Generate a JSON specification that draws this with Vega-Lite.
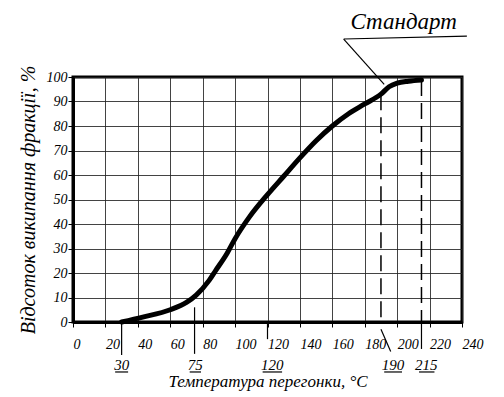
{
  "$schema": "https://vega.github.io/schema/vega-lite/v6.json",
  "autosize": "none",
  "width": 389,
  "height": 245,
  "padding": {"left": 73, "top": 77, "right": 42, "bottom": 75},
  "background": "white",
  "datasets": {
    "curve": [
      {"t": 30, "p": 0}, {"t": 43, "p": 2}, {"t": 60, "p": 5}, {"t": 70, "p": 8},
      {"t": 76, "p": 11}, {"t": 84, "p": 17}, {"t": 88, "p": 21}, {"t": 95, "p": 28},
      {"t": 100, "p": 34}, {"t": 109, "p": 43}, {"t": 120, "p": 52}, {"t": 130, "p": 59.5},
      {"t": 140, "p": 67}, {"t": 150, "p": 74}, {"t": 160, "p": 80}, {"t": 170, "p": 85},
      {"t": 180, "p": 89}, {"t": 190, "p": 93}, {"t": 195, "p": 96}, {"t": 200, "p": 97.5},
      {"t": 207, "p": 98.3}, {"t": 215, "p": 98.8}
    ],
    "dashed": [{"t": 190, "p": 93}, {"t": 215, "p": 98.8}],
    "segments": [
      {"t": 30, "p": 0, "t2": 30, "p2": -13.5},
      {"t": 75, "p": 6, "t2": 75, "p2": -13},
      {"t": 120, "p": 0, "t2": 120, "p2": -7},
      {"t": 190, "p": -3, "t2": 196, "p2": -12},
      {"t": 215, "p": 0, "t2": 215, "p2": -11},
      {"t": 192, "p": 97, "t2": 167, "p2": 115.5},
      {"t": 167, "p": 115.5, "t2": 243, "p2": 116.7}
    ],
    "marks": [
      {"label": "30", "t": 30, "lo": 26, "hi": 34},
      {"label": "75", "t": 75.5, "lo": 72, "hi": 79},
      {"label": "120", "t": 123, "lo": 117, "hi": 129},
      {"label": "190", "t": 197.5, "lo": 192, "hi": 203},
      {"label": "215", "t": 218, "lo": 213.5, "hi": 223}
    ],
    "note": [{"label": "Стандарт", "t": 204, "p": 119.6}]
  },
  "layer": [
    {
      "data": {"name": "curve"},
      "mark": {"type": "line", "color": "black", "strokeWidth": 5, "interpolate": "monotone", "strokeCap": "round"},
      "encoding": {
        "x": {
          "field": "t", "type": "quantitative",
          "scale": {"domain": [0, 240], "nice": false, "zero": false},
          "axis": {
            "values": [0, 20, 40, 60, 80, 100, 120, 140, 160, 180, 200, 220, 240],
            "tickCount": 30,
            "title": "Температура перегонки, °C",
            "titlePadding": 22,
            "labelAlign": "left",
            "labelDx": 1,
            "labelPadding": 10,
            "labelOverlap": false
          }
        },
        "y": {
          "field": "p", "type": "quantitative",
          "scale": {"domain": [0, 100], "nice": false, "zero": false},
          "axis": {
            "values": [0, 10, 20, 30, 40, 50, 60, 70, 80, 90, 100],
            "tickCount": 30,
            "title": "Відсоток википання фракції, %",
            "titleFontSize": 20,
            "titlePadding": 8,
            "labelPadding": 1,
            "labelOverlap": false
          }
        }
      }
    },
    {
      "data": {"name": "dashed"},
      "mark": {"type": "rule", "color": "black", "strokeWidth": 1.5, "strokeDash": [16, 7]},
      "encoding": {
        "x": {"field": "t", "type": "quantitative"},
        "y": {"field": "p", "type": "quantitative"},
        "y2": {"datum": 0}
      }
    },
    {
      "data": {"name": "segments"},
      "mark": {"type": "rule", "color": "black", "strokeWidth": 1.2},
      "encoding": {
        "x": {"field": "t", "type": "quantitative"},
        "y": {"field": "p", "type": "quantitative"},
        "x2": {"field": "t2"},
        "y2": {"field": "p2"}
      }
    },
    {
      "data": {"name": "marks"},
      "mark": {"type": "rule", "color": "black", "strokeWidth": 1.2},
      "encoding": {
        "x": {"field": "lo", "type": "quantitative"},
        "x2": {"field": "hi"},
        "y": {"datum": -20.4}
      }
    },
    {
      "data": {"name": "marks"},
      "mark": {"type": "text", "font": "Liberation Sans Narrow", "fontStyle": "italic", "fontSize": 15, "baseline": "alphabetic", "color": "black"},
      "encoding": {
        "x": {"field": "t", "type": "quantitative"},
        "y": {"datum": -19.4},
        "text": {"field": "label"}
      }
    },
    {
      "data": {"name": "note"},
      "mark": {"type": "text", "font": "Liberation Sans Narrow", "fontStyle": "italic", "fontSize": 23, "baseline": "alphabetic", "color": "black"},
      "encoding": {
        "x": {"field": "t", "type": "quantitative"},
        "y": {"field": "p", "type": "quantitative"},
        "text": {"field": "label"}
      }
    }
  ],
  "config": {
    "view": {"stroke": "black", "strokeWidth": 3},
    "axis": {
      "grid": true,
      "labelOverlap": false,
      "gridColor": "#222",
      "gridWidth": 1,
      "gridOpacity": 0.85,
      "domainColor": "black",
      "domainWidth": 3,
      "tickColor": "black",
      "tickWidth": 1,
      "tickSize": 5,
      "labelFont": "Liberation Sans Narrow",
      "labelFontStyle": "italic",
      "labelFontSize": 14,
      "labelColor": "black",
      "titleFont": "Liberation Sans Narrow",
      "titleFontStyle": "italic",
      "titleFontWeight": "normal",
      "titleFontSize": 17,
      "titleColor": "black"
    }
  }
}
